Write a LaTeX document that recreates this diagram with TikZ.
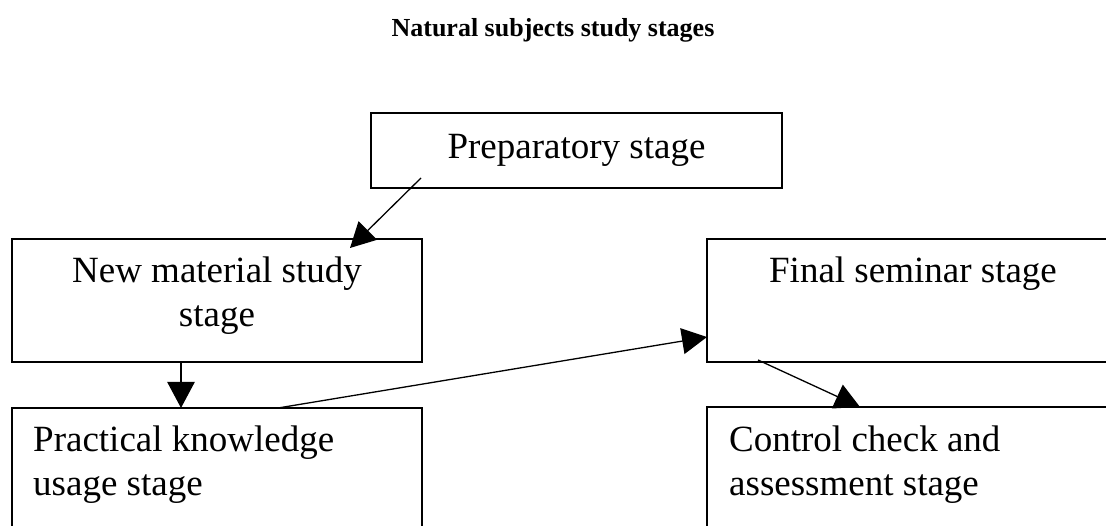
\documentclass[tikz,border=0pt]{standalone}
\usepackage{fontspec}
\setmainfont{Liberation Serif}
\usetikzlibrary{calc}
\usetikzlibrary{arrows.meta}
\tikzset{
  stagebox/.style={draw, line width=2pt, inner sep=0pt, outer sep=0pt, anchor=north west},
  stagetext/.style={font=\fontsize{37}{44}\selectfont, inner sep=0pt},
  thinarrow/.style={line width=1.3pt, -{Triangle[length=25pt,width=26pt]}},
  thickarrow/.style={line width=2.6pt, -{Triangle[length=26pt,width=27pt]}}
}

\begin{document}
\begin{tikzpicture}[x=1pt,y=-1pt]
        \useasboundingbox (0,0) rectangle (1106,526);
        \clip (0,0) rectangle (1106,526);
        \node[font=\fontsize{26}{30}\selectfont\bfseries, anchor=base] (title) at (553,37) {Natural subjects study stages};
        \node[stagebox, stagetext, minimum width=411pt, minimum height=75pt] (prep) at (371,113) {Preparatory stage};
        \node[stagebox, minimum width=410pt, minimum height=123pt] (newmat) at (12,239) {};
        \node[stagebox, minimum width=430pt, minimum height=123pt] (final) at (707,239) {};
        \node[stagebox, minimum width=410pt, minimum height=150pt] (prac) at (12,408) {};
        \node[stagebox, minimum width=430pt, minimum height=150pt] (control) at (707,407) {};
        % base of a two-line node is the baseline of its last line
        \node[stagetext, align=center, anchor=base] (newmattext) at ($(newmat.north)+(0,88)$) {New material study\\stage};
        \node[stagetext, anchor=base] (finaltext) at ($(final.north west)+(206,44)$) {Final seminar stage};
        \node[stagetext, align=left, anchor=base west] (practext) at ($(prac.north west)+(21,87)$) {Practical knowledge\\usage stage};
        \node[stagetext, align=left, anchor=base west] (controltext) at ($(control.north west)+(22,88)$) {Control check and\\assessment stage};
        % arrows between the stages
        \draw[thinarrow] ($(prep.south west)+(50,-10)$) -- ($(newmat.north east)+(-72,9)$);
        \draw[thickarrow] ($(newmat.south west)+(169,0)$) -- ($(prac.north west)+(169,0)$);
        \draw[thinarrow] ($(prac.north west)+(266,0)$) -- ($(final.south west)+(0,-25)$);
        \draw[thinarrow] ($(final.south west)+(51,-2)$) -- ($(control.north west)+(153,0)$);
\end{tikzpicture}
\end{document}
